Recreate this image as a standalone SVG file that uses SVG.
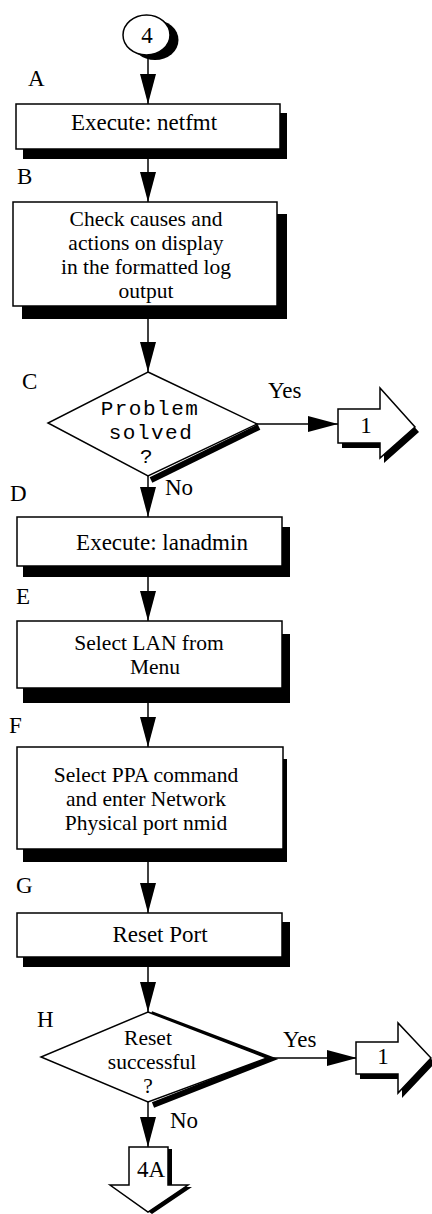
<svg xmlns="http://www.w3.org/2000/svg" width="432" height="1214" viewBox="0 0 432 1214">
<style>
text{font-family:"Liberation Serif","Times New Roman",serif;font-size:23px;fill:#000}
.m{text-anchor:middle}
.ml{font-size:21.5px}
.mono{font-family:"Liberation Mono","Courier New",monospace;font-size:21px;letter-spacing:1.5px;text-anchor:middle}
.box{fill:#fff;stroke:#000;stroke-width:1.5}
.sh{fill:#000}
.ln{stroke:#000;stroke-width:1.5;fill:none}
.dsh{stroke:#000;stroke-width:6;fill:none}
</style>
<defs>
<marker id="ah" viewBox="0 0 30 16" refX="30" refY="8" markerWidth="30" markerHeight="16" markerUnits="userSpaceOnUse" orient="auto">
<path d="M0,0 L30,8 L0,16 Z" fill="#000"/>
</marker>
</defs>
<rect width="432" height="1214" fill="#fff"/>

<g id="connectors">
<line class="ln" x1="148" y1="55" x2="148" y2="104" marker-end="url(#ah)"/>
<line class="ln" x1="148" y1="159" x2="148" y2="202" marker-end="url(#ah)"/>
<line class="ln" x1="148" y1="319" x2="148" y2="372" marker-end="url(#ah)"/>
<line class="ln" x1="148" y1="476" x2="148" y2="517" marker-end="url(#ah)"/>
<line class="ln" x1="257" y1="424" x2="338" y2="424" marker-end="url(#ah)"/>
<line class="ln" x1="148" y1="577" x2="148" y2="621" marker-end="url(#ah)"/>
<line class="ln" x1="148" y1="703" x2="148" y2="747" marker-end="url(#ah)"/>
<line class="ln" x1="148" y1="862" x2="148" y2="913" marker-end="url(#ah)"/>
<line class="ln" x1="148" y1="967" x2="148" y2="1012" marker-end="url(#ah)"/>
<line class="ln" x1="267" y1="1058" x2="357" y2="1058" marker-end="url(#ah)"/>
<line class="ln" x1="148" y1="1102" x2="148" y2="1147" marker-end="url(#ah)"/>
</g>

<g id="start4">
<ellipse cx="155" cy="40" rx="23.5" ry="20" fill="#000"/>
<ellipse cx="146.5" cy="35" rx="23.5" ry="20" class="box"/>
<text x="147" y="43" class="m">4</text>
</g>

<g id="A">
<text x="28" y="86">A</text>
<rect x="23" y="113" width="264" height="46" class="sh"/>
<rect x="16" y="104" width="264" height="45" class="box"/>
<text x="144" y="130" class="m">Execute: netfmt</text>
</g>

<g id="B">
<text x="17" y="184">B</text>
<rect x="22" y="214" width="265" height="105" class="sh"/>
<rect x="13" y="202" width="264" height="104" class="box"/>
<text x="146" y="226" class="m ml">Check causes and</text>
<text x="146" y="250" class="m ml">actions on display</text>
<text x="146" y="274" class="m ml">in the formatted log</text>
<text x="146" y="298" class="m ml">output</text>
</g>

<g id="C">
<text x="22" y="389">C</text>
<polyline class="dsh" points="259,427 151,480"/>
<polygon points="148,372 257,424 148,476 48,423" class="box"/>
<text x="150" y="415" class="mono">Problem</text>
<text x="151" y="439" class="mono">solved</text>
<text x="147" y="463" class="mono">?</text>
<text x="268" y="398">Yes</text>
<text x="165" y="495">No</text>
</g>

<g id="conn1a">
<path d="M338,409 H380 V388 L415,427 L380,458 V443 H338 Z" transform="translate(4,5)" class="sh"/>
<path d="M338,409 H380 V388 L415,427 L380,458 V443 H338 Z" class="box"/>
<text x="366" y="433" class="m">1</text>
</g>

<g id="D">
<text x="10" y="501">D</text>
<rect x="23" y="527" width="267" height="50" class="sh"/>
<rect x="17" y="517" width="265" height="49" class="box"/>
<text x="162" y="550" class="m">Execute: lanadmin</text>
</g>

<g id="E">
<text x="16" y="604">E</text>
<rect x="23" y="634" width="267" height="69" class="sh"/>
<rect x="17" y="621" width="265" height="67" class="box"/>
<text x="149" y="650" class="m ml">Select LAN from</text>
<text x="155" y="674" class="m ml">Menu</text>
</g>

<g id="F">
<text x="9" y="733">F</text>
<rect x="23" y="759" width="264" height="103" class="sh"/>
<rect x="17" y="747" width="266" height="102" class="box"/>
<text x="146" y="782" class="m ml">Select PPA command</text>
<text x="146" y="806" class="m ml">and enter Network</text>
<text x="146" y="830" class="m ml">Physical port nmid</text>
</g>

<g id="G">
<text x="16" y="893">G</text>
<rect x="23" y="922" width="267" height="45" class="sh"/>
<rect x="17" y="913" width="265" height="44" class="box"/>
<text x="160" y="942" class="m">Reset Port</text>
</g>

<g id="H">
<text x="37" y="1027">H</text>
<polyline class="dsh" points="151,1014 270,1059 153,1105"/>
<polygon points="148,1012 267,1058 148,1102 41,1057" class="box"/>
<text x="148" y="1045" class="m ml">Reset</text>
<text x="152" y="1069" class="m ml">successful</text>
<text x="148" y="1093" class="m ml">?</text>
<text x="283" y="1047">Yes</text>
<text x="170" y="1128">No</text>
</g>

<g id="conn1b">
<path d="M356,1042 H398 V1023 L431,1058 L398,1093 V1074 H356 Z" transform="translate(4,5)" class="sh"/>
<path d="M356,1042 H398 V1023 L431,1058 L398,1093 V1074 H356 Z" class="box"/>
<text x="383" y="1064" class="m">1</text>
</g>

<g id="conn4A">
<path d="M129,1147 H168 V1185 H188 L148,1212 L110,1185 H129 Z" transform="translate(4,2)" class="sh"/>
<path d="M129,1147 H168 V1185 H188 L148,1212 L110,1185 H129 Z" class="box"/>
<text x="151" y="1177" class="m">4A</text>
</g>
</svg>
